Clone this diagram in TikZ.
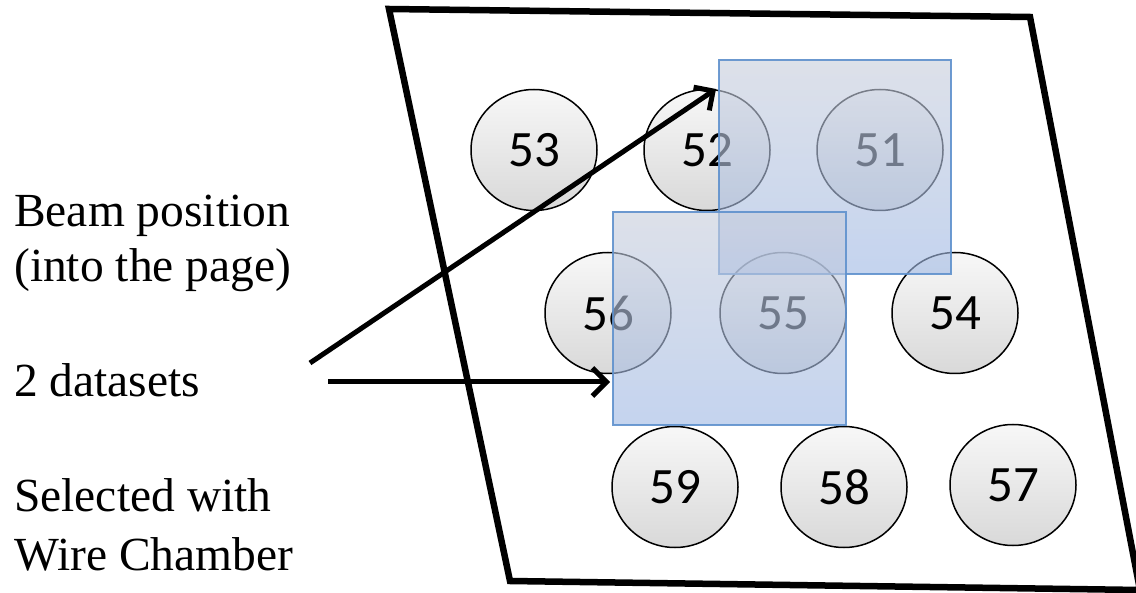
\documentclass[tikz,border=0pt]{standalone}
\usepackage{fontspec}
\setmainfont{Liberation Serif}
\newfontfamily\carlito{Carlito}
\usetikzlibrary{shapes.geometric,arrows.meta}
\definecolor{sqtop}{RGB}{200,206,220}
\definecolor{sqbot}{RGB}{160,185,228}
\definecolor{sqedge}{RGB}{95,145,205}
\tikzset{
  crystal/.style={ellipse, draw=black, line width=1.5pt, minimum width=126pt, minimum height=121pt,
    inner sep=0pt, top color=gray!6, bottom color=gray!30, font=\carlito\fontsize{51}{54}\selectfont},
  dataset/.style={rectangle, draw=sqedge, line width=1.5pt, top color=sqtop, bottom color=sqbot, fill opacity=0.62, draw opacity=0.9, inner sep=0pt},
  label/.style={anchor=base west, inner sep=0pt, font=\fontsize{47.5}{55}\selectfont},
  beam/.style={line width=5pt, -{Straight Barb[length=14pt,width=28pt,line width=5pt]}}
}
\begin{document}
\begin{tikzpicture}[x=1pt,y=-1pt]
\useasboundingbox (0,0) rectangle (1136,593);
% frame
\draw[line width=6.5pt, line join=miter] (389,9) -- (1030,17) -- (1140,590) -- (510,581) -- cycle;
% crystals
\node[crystal] (c53) at (534,150) {53};
\node[crystal] (c52) at (707,150) {52};
\node[crystal] (c51) at (880,150) {51};
\node[crystal] (c56) at (608,313) {56};
\node[crystal] (c55) at (783,313) {55};
\node[crystal] (c54) at (955,313) {54};
\node[crystal] (c59) at (675,487) {59};
\node[crystal] (c58) at (844,487) {58};
\node[crystal] (c57) at (1013,485) {57};
% labels
\node[label] (l1) at (14,227) {Beam position};
\node[label] (l2) at (14,282) {(into the page)};
\node[label] (l3) at (14,397) {2 datasets};
\node[label] (l4) at (14,512) {Selected with};
\node[label] (l5) at (14,570) {Wire Chamber};
% arrows
\coordinate (a1s) at (310,363);
\coordinate (a1e) at (716,89);
\coordinate (a2s) at (328,382);
\coordinate (a2e) at (610,382);
\draw[beam] (a1s) -- (a1e);
\draw[beam] (a2s) -- (a2e);
% datasets
\node[dataset, minimum width=232pt, minimum height=214pt] (s1) at (835,167) {};
\node[dataset, minimum width=233pt, minimum height=213pt] (s2) at (729.5,318.5) {};
\end{tikzpicture}
\end{document}
